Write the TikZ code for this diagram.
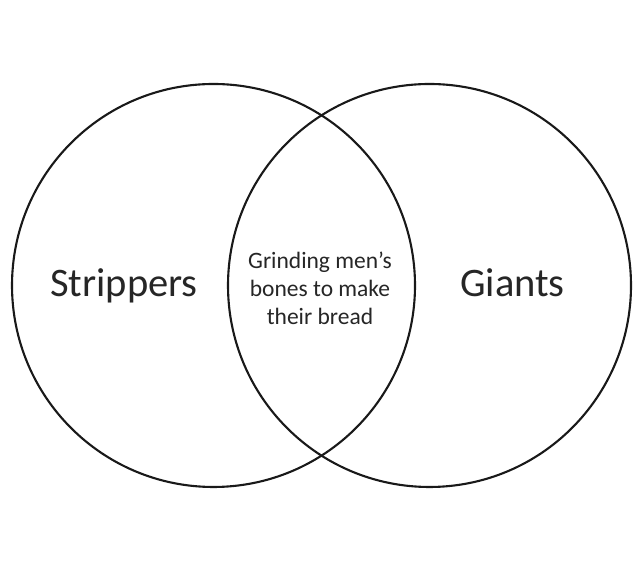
\documentclass[tikz,border=0pt]{standalone}
\usepackage{fontspec}
\setmainfont{Carlito}
\usetikzlibrary{positioning}

\begin{document}
\begin{tikzpicture}[x=1pt, y=1pt,
  every node/.style={text=black!85},
  ring/.style={line width=2.1pt, black!90},
  setname/.style={font=\fontsize{40.5}{44}\selectfont, anchor=base},
  overlap/.style={font=\fontsize{23.5}{27.8}\selectfont, align=center, anchor=base}]
% canvas
\useasboundingbox (0,0) rectangle (640,577);
\fill[white] (0,0) rectangle (640,577);

% --- the two sets ---
\draw[ring] (213.5,291.5) circle (201.5);
\draw[ring] (429.5,291.5) circle (201.5);

% --- labels (placed on their baselines; overlap on its last line) ---
\node[setname] (strip) at (124,280) {Strippers};
\node[setname] (giant) at (512.5,280) {Giants};
\node[overlap] (both) at (320,252.5) {Grinding men’s\\bones to make\\their bread};
\end{tikzpicture}
\end{document}
